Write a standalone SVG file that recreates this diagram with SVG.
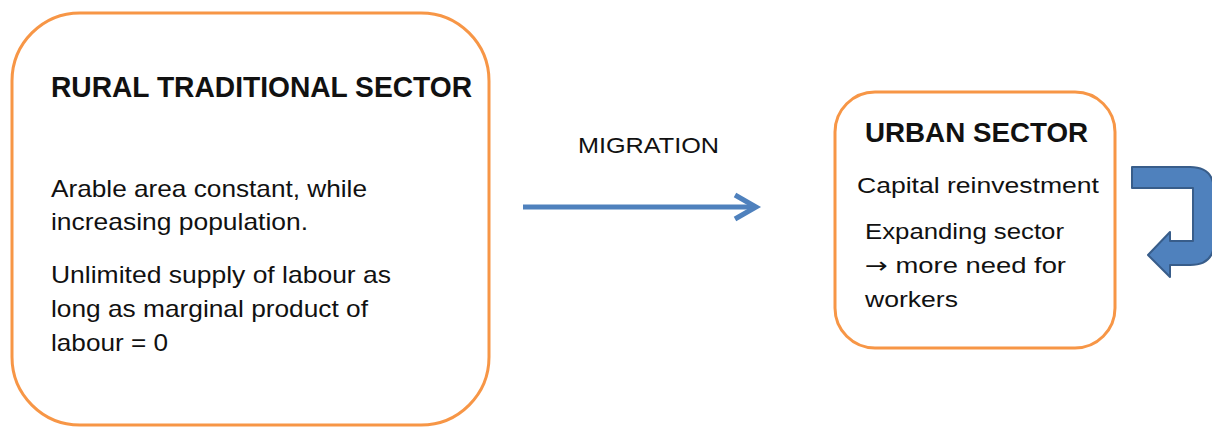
<svg xmlns="http://www.w3.org/2000/svg" width="1212" height="427" viewBox="0 0 1212 427">
<style>
.box{fill:#fff;stroke:#F79646;stroke-width:3}
.t{font-family:"Liberation Sans",Arial,sans-serif;fill:#111}
.h{font-weight:bold}
.conn{fill:none;stroke:#4F81BD;stroke-width:5}
</style>
<rect width="1212" height="427" fill="#fff"/>
<g id="rural">
<rect class="box" x="12" y="13" width="477" height="412" rx="68" ry="68"/>
<text class="t h" x="51" y="97" font-size="30" textLength="421" lengthAdjust="spacingAndGlyphs">RURAL TRADITIONAL SECTOR</text>
<text class="t" x="51" y="197" font-size="24" textLength="316" lengthAdjust="spacingAndGlyphs">Arable area constant, while</text>
<text class="t" x="51" y="230" font-size="24" textLength="257" lengthAdjust="spacingAndGlyphs">increasing population.</text>
<text class="t" x="51" y="283" font-size="24" textLength="340" lengthAdjust="spacingAndGlyphs">Unlimited  supply of labour as</text>
<text class="t" x="51" y="317" font-size="24" textLength="317" lengthAdjust="spacingAndGlyphs">long as marginal product of</text>
<text class="t" x="51" y="351" font-size="24" textLength="117" lengthAdjust="spacingAndGlyphs">labour = 0</text>
</g>
<g id="urban">
<rect class="box" x="835" y="92" width="280" height="256" rx="40" ry="40"/>
<text class="t h" x="865" y="142" font-size="28" textLength="223" lengthAdjust="spacingAndGlyphs">URBAN SECTOR</text>
<text class="t" x="857" y="193" font-size="22" textLength="242" lengthAdjust="spacingAndGlyphs">Capital reinvestment</text>
<text class="t" x="865" y="239" font-size="22" textLength="199" lengthAdjust="spacingAndGlyphs">Expanding sector</text>
<text class="t" x="865" y="273" font-size="22" textLength="201" lengthAdjust="spacingAndGlyphs"><tspan font-family="'DejaVu Sans',sans-serif">→</tspan> more need for</text>
<text class="t" x="865" y="307" font-size="22" textLength="93" lengthAdjust="spacingAndGlyphs">workers</text>
</g>
<g id="migration-label">
<text class="t" x="578" y="153" font-size="22" textLength="141" lengthAdjust="spacingAndGlyphs">MIGRATION</text>
</g>
<g id="connectors">
<path class="conn" d="M523,207 H755"/>
<path class="conn" d="M735,195 L756,207 L735,219" stroke-linejoin="miter"/>
<path id="loop-arrow" d="M1132,167 L1190,167 Q1214,167 1214,191 L1214,242 Q1214,265 1190,265 L1170,265 L1170,277 L1148,255 L1170,232 L1170,241 L1193,241 L1193,188 L1132,188 Z" fill="#4F81BD" stroke="#385D8A" stroke-width="2" stroke-linejoin="round"/>
</g>
</svg>
